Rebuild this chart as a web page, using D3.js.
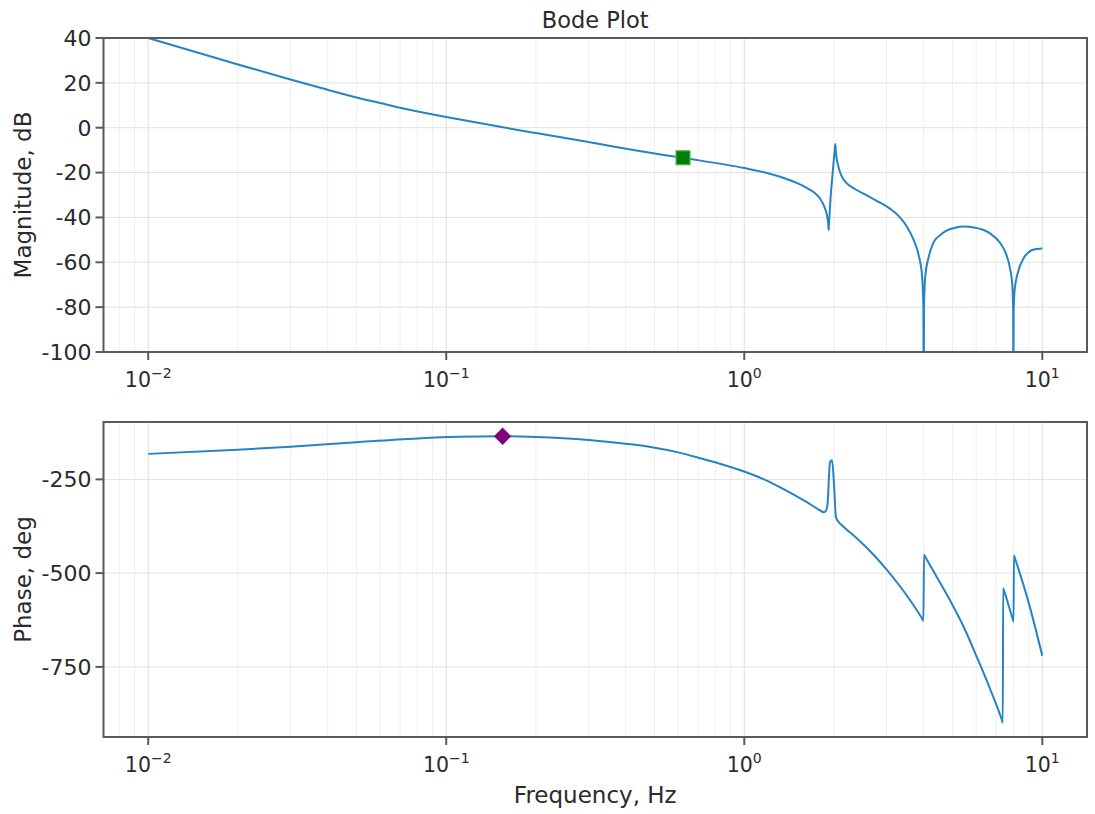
<!DOCTYPE html>
<html>
<head>
<meta charset="utf-8">
<script src="https://cdn.jsdelivr.net/npm/d3@7"></script>
<style>
  body { margin: 0; background: #fff; }
  text { font-family: "DejaVu Sans", sans-serif; fill: #2b2b2b; }
</style>
</head>
<body>
<script>
// magnitude curve: frequency (Hz) and dB
var magFreq = [0.01, 0.015, 0.02, 0.03, 0.04, 0.05, 0.06, 0.07, 0.1, 0.15, 0.2, 0.3, 0.45, 0.62, 1.0,
  1.2, 1.35, 1.5, 1.62, 1.72, 1.8, 1.86, 1.9, 1.915, 1.92, 1.925, 2.01, 2.02, 2.03, 2.07, 2.12, 2.21, 2.33,
  2.58, 2.8, 3.09, 3.34, 3.51, 3.7, 3.85, 3.95, 3.99, 4.0, 4.01, 4.05, 4.16, 4.32, 4.55, 4.79, 5.1, 5.45,
  5.9, 6.35, 6.7, 7.23, 7.52, 7.81, 7.93, 7.985, 8.0, 8.015, 8.08, 8.27, 8.65, 9.0, 9.36, 10];
var magDb = [40, 33.1, 28.2, 21.5, 16.9, 13.5, 11.0, 8.9, 4.8, 0.5, -2.4, -6.4, -10.5, -13.4, -18.0,
  -20.3, -22.3, -24.6, -26.8, -29.0, -31.8, -35.5, -40, -43.5, -45.6, -42.5, -10.5, -7.3, -11, -17.4, -21.5, -24.8, -27,
  -30.2, -32.8, -36.2, -40.2, -44, -50, -57, -66, -80, -140, -80, -66, -57.5, -51, -47.8, -45.8, -44.6, -44.1,
  -44.5, -45.6, -47.2, -51.5, -55.5, -63.4, -70, -82, -140, -82, -72, -64.9, -58.2, -55.5, -54.3, -53.8];

// phase curve: frequency (Hz) and degrees
var phFreq = [0.01, 0.02, 0.03, 0.05, 0.08, 0.11, 0.1546, 0.2, 0.3, 0.4, 0.484, 0.6, 0.711, 0.85,
  1.01, 1.2, 1.355, 1.6, 1.8, 1.845, 1.87, 1.9, 1.94, 1.97, 2.0, 2.03, 2.07, 2.13, 2.4, 2.7, 3.0, 3.3,
  3.6, 3.95, 3.99, 4.01, 4.05, 4.43, 4.91, 5.46, 6.04, 6.69, 7.3, 7.37, 7.39, 7.45, 7.95, 8.01, 8.03, 8.1,
  9.01, 10];
var phDeg = [-182, -171, -163, -151, -141, -136.5, -135, -137, -145, -155, -163.6, -178, -193.5, -211,
  -230.5, -254.5, -276, -308, -333, -337.4, -336, -320, -203.7, -199, -261.5, -350, -363, -373, -409, -449, -490, -531,
  -572, -621, -627, -451, -457, -511, -573.6, -645, -725, -809.7, -889, -899, -540, -548, -621, -629, -452, -461,
  -580, -720.6];

// markers
var gainMark = [0.623, -13.4];
var phaseMark = [0.1546, -135];

var magTicks = [40, 20, 0, -20, -40, -60, -80, -100];
var phTicks = [-250, -500, -750];
var decades = [-2, -1, 0, 1];

var W = 1095, H = 814;
var left = 103.5, right = 1087;
var lineColor = "#2683c4";

var svg = d3.select("body").append("svg")
  .attr("width", W)
  .attr("height", H);

var x = d3.scaleLog()
  .domain([Math.pow(10, -2.15), Math.pow(10, 1.15)])
  .range([left, right]);

// minor grid positions (2..9 of each decade)
var minor = [];
for (var n = -3; n <= 1; n++) {
  for (var k = 2; k <= 9; k++) {
    var v = k * Math.pow(10, n);
    if (v > x.domain()[0] && v < x.domain()[1]) minor.push(v);
  }
}

svg.append("text")
  .attr("x", (left + right) / 2)
  .attr("y", 28)
  .attr("text-anchor", "middle")
  .style("font-size", "22.5px")
  .text("Bode Plot");

function panel(y0, y1, yDomain, ticks, fq, vals, yLabel, mark, markType, markColor, showXLabel) {
  var y = d3.scaleLinear().domain(yDomain).range([y1, y0]);
  var g = svg.append("g");
  var id = "clip" + y0;

  g.append("clipPath").attr("id", id)
    .append("rect")
    .attr("x", left).attr("y", y0)
    .attr("width", right - left).attr("height", y1 - y0);

  // grid
  g.selectAll(".minor").data(minor).enter().append("line")
    .attr("x1", function(d) { return x(d); })
    .attr("x2", function(d) { return x(d); })
    .attr("y1", y0).attr("y2", y1)
    .style("stroke", "#efefef").style("stroke-width", 1);
  g.selectAll(".major").data(decades).enter().append("line")
    .attr("x1", function(d) { return x(Math.pow(10, d)); })
    .attr("x2", function(d) { return x(Math.pow(10, d)); })
    .attr("y1", y0).attr("y2", y1)
    .style("stroke", "#dedede").style("stroke-width", 1);
  g.selectAll(".hgrid").data(ticks).enter().append("line")
    .attr("x1", left).attr("x2", right)
    .attr("y1", function(d) { return y(d); })
    .attr("y2", function(d) { return y(d); })
    .style("stroke", "#e2e2e2").style("stroke-width", 1);

  // curve
  var pts = fq.map(function(f, i) { return [f, vals[i]]; });
  var line = d3.line()
    .x(function(d) { return x(d[0]); })
    .y(function(d) { return y(d[1]); })
    .curve(d3.curveMonotoneX);
  g.append("path")
    .datum(pts)
    .attr("clip-path", "url(#" + id + ")")
    .attr("d", line)
    .style("fill", "none")
    .style("stroke", lineColor)
    .style("stroke-width", 2);

  // marker
  var mx = x(mark[0]), my = y(mark[1]);
  if (markType === "square") {
    g.append("rect")
      .attr("x", mx - 7).attr("y", my - 7)
      .attr("width", 14).attr("height", 14)
      .style("fill", markColor)
      .style("stroke", "#5fb35f").style("stroke-width", 1.2);
  } else {
    g.append("path")
      .attr("d", d3.symbol().type(d3.symbolDiamond2).size(190)())
      .attr("transform", "translate(" + mx + "," + my + ")")
      .style("fill", markColor);
  }

  // frame
  g.append("rect")
    .attr("x", left).attr("y", y0)
    .attr("width", right - left).attr("height", y1 - y0)
    .style("fill", "none")
    .style("stroke", "#5a5a5a").style("stroke-width", 2);

  // y ticks
  var yt = g.selectAll(".yt").data(ticks).enter().append("g")
    .attr("transform", function(d) { return "translate(0," + y(d) + ")"; });
  yt.append("line")
    .attr("x1", left - 8).attr("x2", left)
    .style("stroke", "#5a5a5a").style("stroke-width", 2);
  yt.append("text")
    .attr("x", left - 12)
    .attr("dy", "0.36em")
    .attr("text-anchor", "end")
    .style("font-size", "22px")
    .text(function(d) { return d; });

  // x ticks
  var xt = g.selectAll(".xt").data(decades).enter().append("g")
    .attr("transform", function(d) { return "translate(" + x(Math.pow(10, d)) + "," + y1 + ")"; });
  xt.append("line")
    .attr("y1", 0).attr("y2", 8)
    .style("stroke", "#5a5a5a").style("stroke-width", 2);
  var lab = xt.append("text")
    .attr("y", 35)
    .attr("text-anchor", "middle")
    .style("font-size", "20.5px");
  lab.append("tspan").text("10");
  lab.append("tspan")
    .attr("dy", -9)
    .style("font-size", "14px")
    .text(function(d) { return d < 0 ? "\u2212" + (-d) : "" + d; });

  svg.append("text")
    .attr("transform", "translate(31," + (y0 + y1) / 2 + ") rotate(-90)")
    .attr("text-anchor", "middle")
    .style("font-size", "23px")
    .text(yLabel);

  if (showXLabel) {
    svg.append("text")
      .attr("x", (left + right) / 2)
      .attr("y", y1 + 66)
      .attr("text-anchor", "middle")
      .style("font-size", "23px")
      .text("Frequency, Hz");
  }
}

panel(38, 352, [-100, 40], magTicks, magFreq, magDb, "Magnitude, dB", gainMark, "square", "#008000", false);
panel(422, 737, [-937, -97], phTicks, phFreq, phDeg, "Phase, deg", phaseMark, "diamond", "#800080", true);
</script>
</body>
</html>
